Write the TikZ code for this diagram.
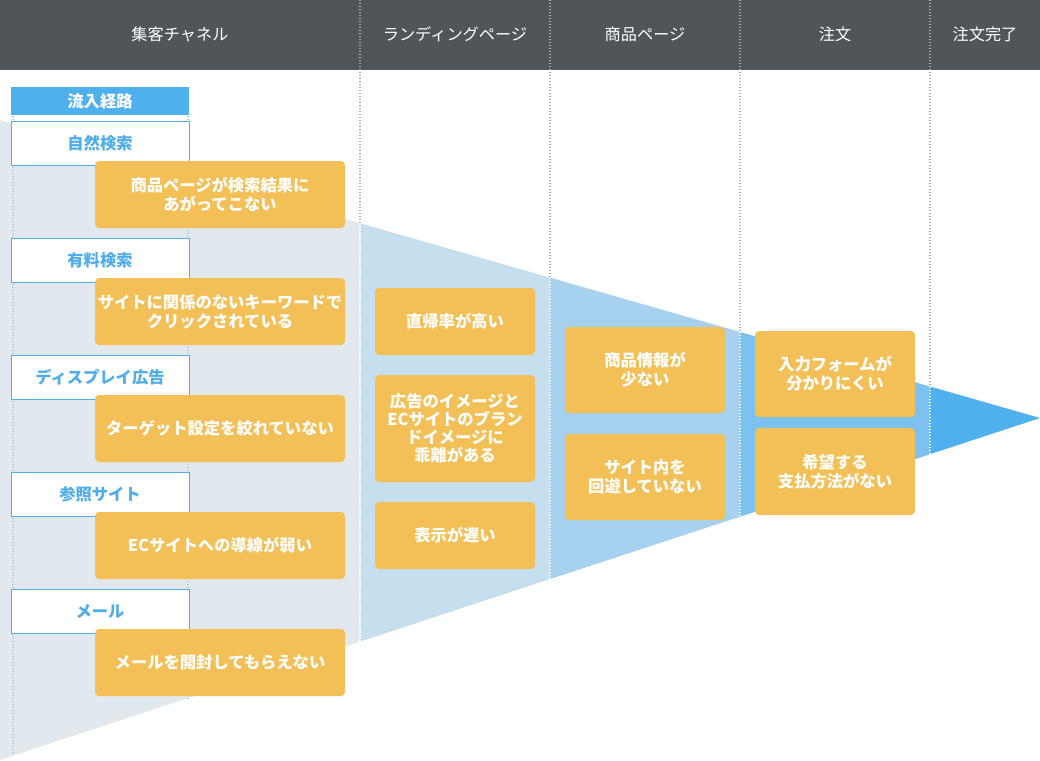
\documentclass[tikz,border=0pt]{standalone}
\usepackage{fontspec}
\setmainfont{Noto Sans CJK JP}
\definecolor{hdr}{HTML}{50555A}
\definecolor{fgray}{HTML}{E2E9EE}
\definecolor{fb1}{HTML}{C6DFEE}
\definecolor{fb2}{HTML}{A6D1EF}
\definecolor{fb3}{HTML}{7DC1EE}
\definecolor{fb4}{HTML}{4FB0EE}
\definecolor{org}{HTML}{F2C057}
\definecolor{chblue}{HTML}{4FAEE9}
\definecolor{dotblue}{HTML}{9CCBEE}
\definecolor{dotgray}{HTML}{AAAAAA}
\tikzset{
  hdrtext/.style={text=white,font=\fontsize{16.2}{19}\selectfont},
  issue/.style={fill=org,rounded corners=4pt,text=white,align=center,
    font=\bfseries\fontsize{16.3}{19.2}\selectfont,inner sep=0pt},
  chan/.style={draw=chblue,line width=1pt,fill=white,text=chblue,
    minimum width=178pt,minimum height=44pt,inner sep=0pt,
    font=\bfseries\fontsize{16.3}{19}\selectfont},
  gdot/.style={draw=dotgray,line width=1.2pt,dash pattern=on 1.4pt off 1.6pt},
  wdot/.style={draw=white,line width=1.2pt,dash pattern=on 1.4pt off 1.6pt},
  bdot/.style={draw=dotblue,line width=1.2pt,dash pattern=on 1.4pt off 1.6pt},
}
\begin{document}
\begin{tikzpicture}[x=1pt,y=-1pt]
\useasboundingbox (0,0) rectangle (1040,760);
% header
\fill[hdr] (0,0) rectangle (1040,70);
% funnel segments
\fill[fgray] (0,120) -- (360,223.2) -- (360,641.6) -- (0,760) -- cycle;
\fill[fb1] (360,223.2) -- (550,277.6) -- (550,579.1) -- (360,641.6) -- cycle;
\fill[fb2] (550,277.6) -- (740,332.0) -- (740,516.7) -- (550,579.1) -- cycle;
\fill[fb3] (740,332.0) -- (930,386.5) -- (930,454.2) -- (740,516.7) -- cycle;
\fill[fb4] (930,386.5) -- (1040,418) -- (930,454.2) -- cycle;
% column separators
\foreach \x/\t/\b in {360/223.2/641.6, 550/277.6/579.1, 740/332.0/516.7, 930/386.5/454.2}{
  \draw[gdot] (\x,0) -- (\x,\t);
  \draw[wdot] (\x,\t) -- (\x,\b);
}
% header labels
\node[hdrtext] (h1) at (180,34) {集客チャネル};
\node[hdrtext] (h2) at (455,34) {ランディングページ};
\node[hdrtext] (h3) at (645,34) {商品ページ};
\node[hdrtext] (h4) at (835,34) {注文};
\node[hdrtext] (h5) at (985,34) {注文完了};
% channel column dotted guides
\draw[bdot] (13,116) -- (13,755);
\draw[bdot] (188,116) -- (188,700);
% inflow heading
\node[fill=fb4,text=white,minimum width=178pt,minimum height=28pt,inner sep=0pt,
  font=\bfseries\fontsize{16.3}{19}\selectfont] (route) at (100,101) {流入経路};
% channels
\node[chan] (c1) at (100,143.5) {自然検索};
\node[chan] (c2) at (100,260.5) {有料検索};
\node[chan] (c3) at (100,377.5) {ディスプレイ広告};
\node[chan] (c4) at (100,494.5) {参照サイト};
\node[chan] (c5) at (100,611.5) {メール};
% channel issues
\node[issue,minimum width=250pt,minimum height=67pt] (i1) at (220,194.5) {商品ページが検索結果に\\あがってこない};
\node[issue,minimum width=250pt,minimum height=67pt] (i2) at (220,311.5) {サイトに関係のないキーワードで\\クリックされている};
\node[issue,minimum width=250pt,minimum height=67pt] (i3) at (220,428.5) {ターゲット設定を絞れていない};
\node[issue,minimum width=250pt,minimum height=67pt] (i4) at (220,545.5) {ECサイトへの導線が弱い};
\node[issue,minimum width=250pt,minimum height=67pt] (i5) at (220,662.5) {メールを開封してもらえない};
% landing page issues
\node[issue,minimum width=160pt,minimum height=67pt] (l1) at (455,321.5) {直帰率が高い};
\node[issue,minimum width=160pt,minimum height=107pt,
  font=\bfseries\fontsize{16.3}{17.8}\selectfont] (l2) at (455,428.5) {広告のイメージと\\ECサイトのブラン\\ドイメージに\\乖離がある};
\node[issue,minimum width=160pt,minimum height=67pt] (l3) at (455,535.5) {表示が遅い};
% product page issues
\node[issue,minimum width=160pt,minimum height=86pt] (p1) at (645,370) {商品情報が\\少ない};
\node[issue,minimum width=160pt,minimum height=86pt] (p2) at (645,477) {サイト内を\\回遊していない};
% order issues
\node[issue,minimum width=160pt,minimum height=86pt] (o1) at (835,374) {入力フォームが\\分かりにくい};
\node[issue,minimum width=160pt,minimum height=87pt] (o2) at (835,471.5) {希望する\\支払方法がない};
\end{tikzpicture}
\end{document}
